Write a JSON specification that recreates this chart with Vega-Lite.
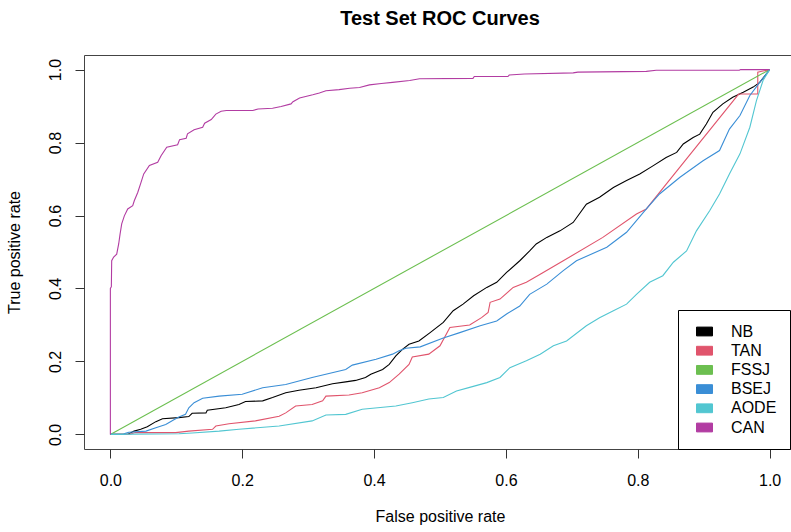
{
  "$schema": "https://vega.github.io/schema/vega-lite/v6.json",
  "autosize": {"type": "none"},
  "padding": {"left": 84, "top": 55, "right": 0, "bottom": 83},
  "width": 712,
  "height": 394,
  "background": "white",
  "config": {"font": "Liberation Sans", "view": {"stroke": "#444", "strokeWidth": 1}},
  "title": {"text": "Test Set ROC Curves", "fontSize": 20, "fontWeight": "bold", "font": "Liberation Sans", "color": "#000", "anchor": "middle", "frame": "group", "baseline": "alphabetic", "offset": 10},
  "data": {"values": [
    {"m":"NB","i":0,"x":0,"y":0},{"m":"NB","i":1,"x":0.026,"y":0},{"m":"NB","i":2,"x":0.036,"y":0.009},{"m":"NB","i":3,"x":0.046,"y":0.014},{"m":"NB","i":4,"x":0.056,"y":0.021},{"m":"NB","i":5,"x":0.069,"y":0.035},{"m":"NB","i":6,"x":0.079,"y":0.043},{"m":"NB","i":7,"x":0.104,"y":0.046},{"m":"NB","i":8,"x":0.119,"y":0.049},{"m":"NB","i":9,"x":0.124,"y":0.058},{"m":"NB","i":10,"x":0.145,"y":0.059},{"m":"NB","i":11,"x":0.147,"y":0.066},{"m":"NB","i":12,"x":0.175,"y":0.073},{"m":"NB","i":13,"x":0.195,"y":0.082},{"m":"NB","i":14,"x":0.205,"y":0.09},{"m":"NB","i":15,"x":0.231,"y":0.092},{"m":"NB","i":16,"x":0.246,"y":0.101},{"m":"NB","i":17,"x":0.266,"y":0.114},{"m":"NB","i":18,"x":0.286,"y":0.121},{"m":"NB","i":19,"x":0.312,"y":0.128},{"m":"NB","i":20,"x":0.337,"y":0.139},{"m":"NB","i":21,"x":0.357,"y":0.144},{"m":"NB","i":22,"x":0.372,"y":0.148},{"m":"NB","i":23,"x":0.387,"y":0.156},{"m":"NB","i":24,"x":0.395,"y":0.165},{"m":"NB","i":25,"x":0.413,"y":0.178},{"m":"NB","i":26,"x":0.423,"y":0.192},{"m":"NB","i":27,"x":0.433,"y":0.215},{"m":"NB","i":28,"x":0.443,"y":0.233},{"m":"NB","i":29,"x":0.453,"y":0.247},{"m":"NB","i":30,"x":0.468,"y":0.256},{"m":"NB","i":31,"x":0.485,"y":0.279},{"m":"NB","i":32,"x":0.505,"y":0.307},{"m":"NB","i":33,"x":0.52,"y":0.339},{"m":"NB","i":34,"x":0.535,"y":0.357},{"m":"NB","i":35,"x":0.551,"y":0.38},{"m":"NB","i":36,"x":0.571,"y":0.403},{"m":"NB","i":37,"x":0.586,"y":0.417},{"m":"NB","i":38,"x":0.601,"y":0.444},{"m":"NB","i":39,"x":0.621,"y":0.476},{"m":"NB","i":40,"x":0.636,"y":0.503},{"m":"NB","i":41,"x":0.646,"y":0.522},{"m":"NB","i":42,"x":0.662,"y":0.54},{"m":"NB","i":43,"x":0.682,"y":0.558},{"m":"NB","i":44,"x":0.702,"y":0.581},{"m":"NB","i":45,"x":0.722,"y":0.631},{"m":"NB","i":46,"x":0.742,"y":0.65},{"m":"NB","i":47,"x":0.763,"y":0.677},{"m":"NB","i":48,"x":0.783,"y":0.696},{"m":"NB","i":49,"x":0.803,"y":0.714},{"m":"NB","i":50,"x":0.823,"y":0.736},{"m":"NB","i":51,"x":0.843,"y":0.759},{"m":"NB","i":52,"x":0.859,"y":0.773},{"m":"NB","i":53,"x":0.869,"y":0.796},{"m":"NB","i":54,"x":0.884,"y":0.814},{"m":"NB","i":55,"x":0.894,"y":0.823},{"m":"NB","i":56,"x":0.904,"y":0.851},{"m":"NB","i":57,"x":0.914,"y":0.883},{"m":"NB","i":58,"x":0.929,"y":0.906},{"m":"NB","i":59,"x":0.944,"y":0.924},{"m":"NB","i":60,"x":0.96,"y":0.938},{"m":"NB","i":61,"x":0.975,"y":0.952},{"m":"NB","i":62,"x":0.985,"y":0.965},{"m":"NB","i":63,"x":0.995,"y":0.988},{"m":"NB","i":64,"x":1,"y":1},
    {"m":"TAN","i":0,"x":0,"y":0},{"m":"TAN","i":1,"x":0.028,"y":0},{"m":"TAN","i":2,"x":0.038,"y":0.005},{"m":"TAN","i":3,"x":0.099,"y":0.005},{"m":"TAN","i":4,"x":0.119,"y":0.009},{"m":"TAN","i":5,"x":0.155,"y":0.014},{"m":"TAN","i":6,"x":0.16,"y":0.023},{"m":"TAN","i":7,"x":0.18,"y":0.029},{"m":"TAN","i":8,"x":0.22,"y":0.037},{"m":"TAN","i":9,"x":0.256,"y":0.05},{"m":"TAN","i":10,"x":0.266,"y":0.059},{"m":"TAN","i":11,"x":0.281,"y":0.078},{"m":"TAN","i":12,"x":0.306,"y":0.082},{"m":"TAN","i":13,"x":0.322,"y":0.092},{"m":"TAN","i":14,"x":0.327,"y":0.105},{"m":"TAN","i":15,"x":0.362,"y":0.108},{"m":"TAN","i":16,"x":0.382,"y":0.114},{"m":"TAN","i":17,"x":0.408,"y":0.128},{"m":"TAN","i":18,"x":0.423,"y":0.142},{"m":"TAN","i":19,"x":0.438,"y":0.165},{"m":"TAN","i":20,"x":0.453,"y":0.192},{"m":"TAN","i":21,"x":0.458,"y":0.212},{"m":"TAN","i":22,"x":0.483,"y":0.22},{"m":"TAN","i":23,"x":0.5,"y":0.243},{"m":"TAN","i":24,"x":0.515,"y":0.293},{"m":"TAN","i":25,"x":0.545,"y":0.3},{"m":"TAN","i":26,"x":0.563,"y":0.32},{"m":"TAN","i":27,"x":0.573,"y":0.334},{"m":"TAN","i":28,"x":0.576,"y":0.362},{"m":"TAN","i":29,"x":0.591,"y":0.371},{"m":"TAN","i":30,"x":0.611,"y":0.403},{"m":"TAN","i":31,"x":0.631,"y":0.417},{"m":"TAN","i":32,"x":0.652,"y":0.439},{"m":"TAN","i":33,"x":0.687,"y":0.476},{"m":"TAN","i":34,"x":0.747,"y":0.54},{"m":"TAN","i":35,"x":0.798,"y":0.604},{"m":"TAN","i":36,"x":0.813,"y":0.618},{"m":"TAN","i":37,"x":0.823,"y":0.641},{"m":"TAN","i":38,"x":0.953,"y":0.933},{"m":"TAN","i":39,"x":0.982,"y":0.933},{"m":"TAN","i":40,"x":0.982,"y":0.993},{"m":"TAN","i":41,"x":1,"y":1},
    {"m":"FSSJ","i":0,"x":0,"y":0},{"m":"FSSJ","i":1,"x":1,"y":1},
    {"m":"BSEJ","i":0,"x":0,"y":0},{"m":"BSEJ","i":1,"x":0.021,"y":0},{"m":"BSEJ","i":2,"x":0.021,"y":0.002},{"m":"BSEJ","i":3,"x":0.028,"y":0.006},{"m":"BSEJ","i":4,"x":0.054,"y":0.009},{"m":"BSEJ","i":5,"x":0.069,"y":0.018},{"m":"BSEJ","i":6,"x":0.084,"y":0.027},{"m":"BSEJ","i":7,"x":0.097,"y":0.041},{"m":"BSEJ","i":8,"x":0.104,"y":0.048},{"m":"BSEJ","i":9,"x":0.114,"y":0.055},{"m":"BSEJ","i":10,"x":0.119,"y":0.073},{"m":"BSEJ","i":11,"x":0.127,"y":0.087},{"m":"BSEJ","i":12,"x":0.14,"y":0.099},{"m":"BSEJ","i":13,"x":0.165,"y":0.105},{"m":"BSEJ","i":14,"x":0.2,"y":0.11},{"m":"BSEJ","i":15,"x":0.231,"y":0.128},{"m":"BSEJ","i":16,"x":0.266,"y":0.137},{"m":"BSEJ","i":17,"x":0.306,"y":0.156},{"m":"BSEJ","i":18,"x":0.357,"y":0.178},{"m":"BSEJ","i":19,"x":0.367,"y":0.19},{"m":"BSEJ","i":20,"x":0.403,"y":0.206},{"m":"BSEJ","i":21,"x":0.428,"y":0.22},{"m":"BSEJ","i":22,"x":0.438,"y":0.229},{"m":"BSEJ","i":23,"x":0.448,"y":0.236},{"m":"BSEJ","i":24,"x":0.47,"y":0.24},{"m":"BSEJ","i":25,"x":0.505,"y":0.264},{"m":"BSEJ","i":26,"x":0.53,"y":0.279},{"m":"BSEJ","i":27,"x":0.561,"y":0.298},{"m":"BSEJ","i":28,"x":0.586,"y":0.311},{"m":"BSEJ","i":29,"x":0.601,"y":0.33},{"m":"BSEJ","i":30,"x":0.621,"y":0.352},{"m":"BSEJ","i":31,"x":0.636,"y":0.384},{"m":"BSEJ","i":32,"x":0.662,"y":0.412},{"m":"BSEJ","i":33,"x":0.687,"y":0.449},{"m":"BSEJ","i":34,"x":0.707,"y":0.476},{"m":"BSEJ","i":35,"x":0.753,"y":0.513},{"m":"BSEJ","i":36,"x":0.783,"y":0.554},{"m":"BSEJ","i":37,"x":0.813,"y":0.618},{"m":"BSEJ","i":38,"x":0.833,"y":0.659},{"m":"BSEJ","i":39,"x":0.864,"y":0.705},{"m":"BSEJ","i":40,"x":0.899,"y":0.75},{"m":"BSEJ","i":41,"x":0.924,"y":0.778},{"m":"BSEJ","i":42,"x":0.939,"y":0.837},{"m":"BSEJ","i":43,"x":0.955,"y":0.874},{"m":"BSEJ","i":44,"x":0.97,"y":0.929},{"m":"BSEJ","i":45,"x":0.985,"y":0.965},{"m":"BSEJ","i":46,"x":1,"y":1},
    {"m":"AODE","i":0,"x":0,"y":0},{"m":"AODE","i":1,"x":0.104,"y":0.002},{"m":"AODE","i":2,"x":0.124,"y":0.004},{"m":"AODE","i":3,"x":0.165,"y":0.009},{"m":"AODE","i":4,"x":0.195,"y":0.014},{"m":"AODE","i":5,"x":0.256,"y":0.023},{"m":"AODE","i":6,"x":0.306,"y":0.037},{"m":"AODE","i":7,"x":0.327,"y":0.053},{"m":"AODE","i":8,"x":0.357,"y":0.055},{"m":"AODE","i":9,"x":0.382,"y":0.069},{"m":"AODE","i":10,"x":0.433,"y":0.078},{"m":"AODE","i":11,"x":0.458,"y":0.087},{"m":"AODE","i":12,"x":0.483,"y":0.097},{"m":"AODE","i":13,"x":0.505,"y":0.101},{"m":"AODE","i":14,"x":0.525,"y":0.119},{"m":"AODE","i":15,"x":0.545,"y":0.129},{"m":"AODE","i":16,"x":0.571,"y":0.142},{"m":"AODE","i":17,"x":0.591,"y":0.156},{"m":"AODE","i":18,"x":0.606,"y":0.183},{"m":"AODE","i":19,"x":0.631,"y":0.202},{"m":"AODE","i":20,"x":0.652,"y":0.22},{"m":"AODE","i":21,"x":0.672,"y":0.243},{"m":"AODE","i":22,"x":0.692,"y":0.256},{"m":"AODE","i":23,"x":0.722,"y":0.298},{"m":"AODE","i":24,"x":0.742,"y":0.32},{"m":"AODE","i":25,"x":0.763,"y":0.339},{"m":"AODE","i":26,"x":0.783,"y":0.357},{"m":"AODE","i":27,"x":0.798,"y":0.384},{"m":"AODE","i":28,"x":0.818,"y":0.417},{"m":"AODE","i":29,"x":0.838,"y":0.435},{"m":"AODE","i":30,"x":0.854,"y":0.472},{"m":"AODE","i":31,"x":0.874,"y":0.503},{"m":"AODE","i":32,"x":0.889,"y":0.558},{"m":"AODE","i":33,"x":0.909,"y":0.613},{"m":"AODE","i":34,"x":0.924,"y":0.659},{"m":"AODE","i":35,"x":0.939,"y":0.714},{"m":"AODE","i":36,"x":0.955,"y":0.769},{"m":"AODE","i":37,"x":0.97,"y":0.842},{"m":"AODE","i":38,"x":0.98,"y":0.915},{"m":"AODE","i":39,"x":0.99,"y":0.97},{"m":"AODE","i":40,"x":1,"y":1},
    {"m":"CAN","i":0,"x":0,"y":0},{"m":"CAN","i":1,"x":0,"y":0.4},{"m":"CAN","i":2,"x":0.0015,"y":0.405},{"m":"CAN","i":3,"x":0.002,"y":0.476},{"m":"CAN","i":4,"x":0.005,"y":0.486},{"m":"CAN","i":5,"x":0.0096,"y":0.494},{"m":"CAN","i":6,"x":0.0126,"y":0.522},{"m":"CAN","i":7,"x":0.0147,"y":0.549},{"m":"CAN","i":8,"x":0.0172,"y":0.577},{"m":"CAN","i":9,"x":0.0212,"y":0.599},{"m":"CAN","i":10,"x":0.0263,"y":0.618},{"m":"CAN","i":11,"x":0.0339,"y":0.627},{"m":"CAN","i":12,"x":0.0364,"y":0.641},{"m":"CAN","i":13,"x":0.0415,"y":0.663},{"m":"CAN","i":14,"x":0.0465,"y":0.691},{"m":"CAN","i":15,"x":0.0506,"y":0.714},{"m":"CAN","i":16,"x":0.0592,"y":0.737},{"m":"CAN","i":17,"x":0.0718,"y":0.746},{"m":"CAN","i":18,"x":0.0769,"y":0.764},{"m":"CAN","i":19,"x":0.0855,"y":0.787},{"m":"CAN","i":20,"x":0.102,"y":0.794},{"m":"CAN","i":21,"x":0.105,"y":0.808},{"m":"CAN","i":22,"x":0.115,"y":0.812},{"m":"CAN","i":23,"x":0.117,"y":0.824},{"m":"CAN","i":24,"x":0.127,"y":0.835},{"m":"CAN","i":25,"x":0.14,"y":0.842},{"m":"CAN","i":26,"x":0.143,"y":0.853},{"m":"CAN","i":27,"x":0.153,"y":0.863},{"m":"CAN","i":28,"x":0.16,"y":0.878},{"m":"CAN","i":29,"x":0.168,"y":0.886},{"m":"CAN","i":30,"x":0.176,"y":0.888},{"m":"CAN","i":31,"x":0.216,"y":0.888},{"m":"CAN","i":32,"x":0.224,"y":0.892},{"m":"CAN","i":33,"x":0.246,"y":0.894},{"m":"CAN","i":34,"x":0.259,"y":0.899},{"m":"CAN","i":35,"x":0.274,"y":0.906},{"m":"CAN","i":36,"x":0.277,"y":0.912},{"m":"CAN","i":37,"x":0.287,"y":0.922},{"m":"CAN","i":38,"x":0.307,"y":0.931},{"m":"CAN","i":39,"x":0.317,"y":0.936},{"m":"CAN","i":40,"x":0.327,"y":0.942},{"m":"CAN","i":41,"x":0.347,"y":0.945},{"m":"CAN","i":42,"x":0.363,"y":0.949},{"m":"CAN","i":43,"x":0.378,"y":0.951},{"m":"CAN","i":44,"x":0.393,"y":0.958},{"m":"CAN","i":45,"x":0.411,"y":0.962},{"m":"CAN","i":46,"x":0.428,"y":0.965},{"m":"CAN","i":47,"x":0.454,"y":0.97},{"m":"CAN","i":48,"x":0.469,"y":0.975},{"m":"CAN","i":49,"x":0.55,"y":0.976},{"m":"CAN","i":50,"x":0.552,"y":0.981},{"m":"CAN","i":51,"x":0.603,"y":0.981},{"m":"CAN","i":52,"x":0.605,"y":0.985},{"m":"CAN","i":53,"x":0.628,"y":0.988},{"m":"CAN","i":54,"x":0.702,"y":0.991},{"m":"CAN","i":55,"x":0.709,"y":0.993},{"m":"CAN","i":56,"x":0.813,"y":0.995},{"m":"CAN","i":57,"x":0.828,"y":0.998},{"m":"CAN","i":58,"x":0.954,"y":0.998},{"m":"CAN","i":59,"x":0.956,"y":1},{"m":"CAN","i":60,"x":1,"y":1}
  ]},
  "mark": {"type": "line", "strokeWidth": 1.1, "clip": true},
  "encoding": {
    "x": {"field": "x", "type": "quantitative",
      "scale": {"domain": [-0.04, 1.04], "nice": false, "zero": false},
      "axis": {"title": "False positive rate", "values": [0, 0.2, 0.4, 0.6, 0.8, 1], "format": ".1f", "grid": false, "domain": false,
        "tickSize": 9, "tickColor": "#333", "labelPadding": 14, "labelFontSize": 16, "labelColor": "#000", "labelFont": "Liberation Sans",
        "titleFontSize": 16, "titleFontWeight": "normal", "titleColor": "#000", "titleFont": "Liberation Sans", "titleBaseline": "top", "titleY": 59}},
    "y": {"field": "y", "type": "quantitative",
      "scale": {"domain": [-0.04, 1.04], "nice": false, "zero": false},
      "axis": {"title": "True positive rate", "values": [0, 0.2, 0.4, 0.6, 0.8, 1], "format": ".1f", "grid": false, "domain": false,
        "tickSize": 9, "tickColor": "#333", "labelPadding": 15, "labelFontSize": 16, "labelColor": "#000", "labelFont": "Liberation Sans",
        "labelAngle": 270, "labelAlign": "center", "labelBaseline": "alphabetic",
        "titleFontSize": 16, "titleFontWeight": "normal", "titleColor": "#000", "titleFont": "Liberation Sans",
        "titleAngle": 270, "titleAlign": "center", "titleBaseline": "alphabetic", "titleX": -64.5, "titleY": 197}},
    "color": {"field": "m", "type": "nominal",
      "scale": {"domain": ["NB", "TAN", "FSSJ", "BSEJ", "AODE", "CAN"], "range": ["#000000", "#E0546C", "#6CBF50", "#3A8ED6", "#52C6D1", "#B23CA2"]},
      "legend": {"orient": "none", "legendX": 594, "legendY": 255, "title": null, "strokeColor": "#000", "fillColor": "#fff", "padding": 13,
        "symbolType": "M-1,-0.55H1V0.55H-1Z", "symbolSize": 256, "symbolStrokeWidth": 1, "symbolOffset": 5, "labelOffset": 18,
        "labelFontSize": 16, "labelFont": "Liberation Sans", "labelColor": "#000", "rowPadding": 2.2,
        "labelExpr": "datum.label + '          '",
        "encode": {"symbols": {"update": {"fill": {"scale": "color", "field": "value"}, "stroke": {"value": "#000"}, "strokeWidth": {"value": 1}, "opacity": {"value": 1}}}}}},
    "order": {"field": "i", "type": "quantitative"}
  }
}
